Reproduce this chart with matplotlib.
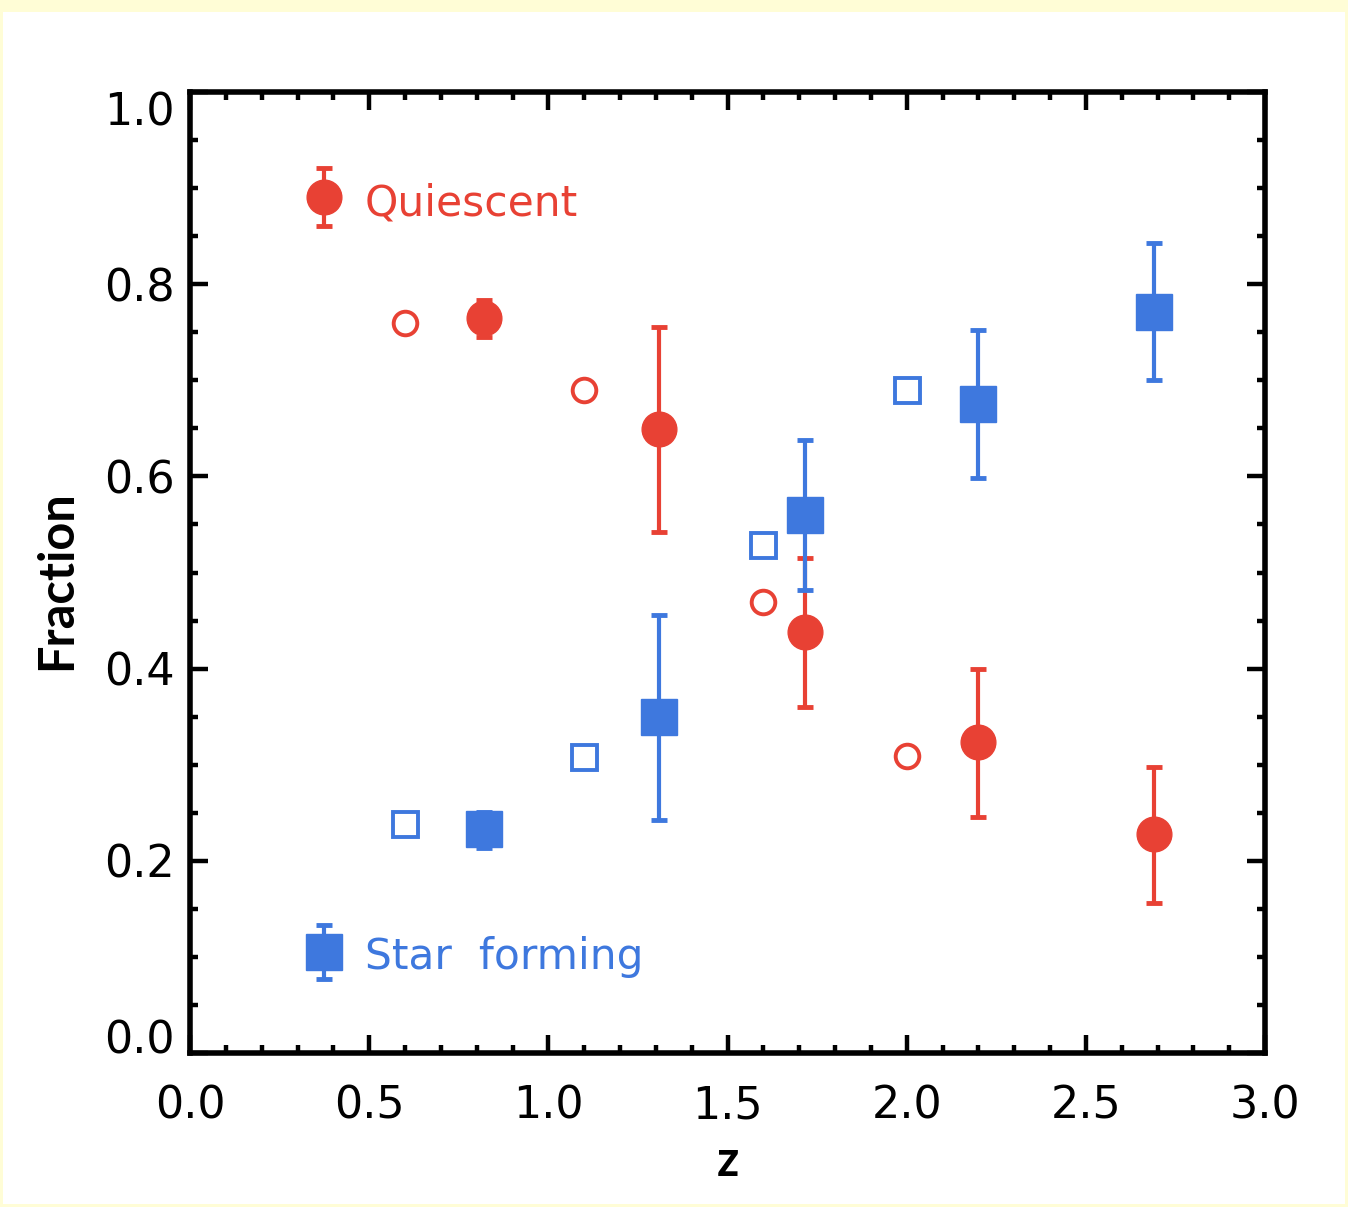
import matplotlib
matplotlib.use("Agg")
import matplotlib.pyplot as plt
from matplotlib.patches import Rectangle
from matplotlib.ticker import MultipleLocator

# ---- data ----
z_filled = [0.82, 1.31, 1.716, 2.20, 2.69]
q_frac = [0.765, 0.649, 0.438, 0.324, 0.228]
q_err_lo = [0.020, 0.107, 0.078, 0.078, 0.072]
q_err_hi = [0.019, 0.106, 0.077, 0.076, 0.070]

sf_frac = [0.233, 0.350, 0.560, 0.675, 0.771]
sf_err_lo = [0.020, 0.108, 0.078, 0.077, 0.071]
sf_err_hi = [0.018, 0.106, 0.078, 0.077, 0.072]

z_open = [0.60, 1.10, 1.60, 2.00]
q_open = [0.760, 0.690, 0.469, 0.309]
sf_open = [0.238, 0.308, 0.529, 0.690]

legend_labels = ["Quiescent", "Star  forming"]
legend_marker_x = [0.374, 0.374]
legend_marker_y = [0.891, 0.105]
legend_err = [0.030, 0.028]

xticks = [0.0, 0.5, 1.0, 1.5, 2.0, 2.5, 3.0]
yticks = [0.0, 0.2, 0.4, 0.6, 0.8, 1.0]

RED = "#E84134"
BLUE = "#3E78DE"

plt.rcParams['font.family'] = ['DejaVu Sans']

fig = plt.figure(figsize=(13.48, 12.07), dpi=100)
fig.patch.set_facecolor("#FFFDD6")
bg = Rectangle((3/1348, 1 - 1204/1207), 1342/1348, 1192/1207,
               transform=fig.transFigure, facecolor="white",
               edgecolor="none", zorder=-10)
fig.add_artist(bg)

ax = fig.add_axes([190/1348, 1 - 1053/1207, 1075/1348, 961/1207])
ax.set_zorder(5)
ax.set_facecolor("white")
ax.set_xlim(0, 3)
ax.set_ylim(0, 1)

ebkw = dict(elinewidth=3, capsize=6, capthick=3.5, linestyle="none")
ax.errorbar(z_filled, q_frac, yerr=[q_err_lo, q_err_hi], fmt="o", color=RED,
            markersize=25, zorder=3, **ebkw)
ax.plot(z_open, q_open, "o", markersize=17, markerfacecolor="none",
        markeredgecolor=RED, markeredgewidth=2.8, zorder=3)
ax.errorbar(z_filled, sf_frac, yerr=[sf_err_lo, sf_err_hi], fmt="s", color=BLUE,
            markersize=26, zorder=4, **ebkw)
ax.plot(z_open, sf_open, "s", markersize=18, markerfacecolor="none",
        markeredgecolor=BLUE, markeredgewidth=2.8, zorder=4)

# legend-like annotations
for lx, ly, le, lab, col, mk, ms, dy in zip(legend_marker_x, legend_marker_y, legend_err,
                                            legend_labels, [RED, BLUE], ["o", "s"],
                                            [25, 26], [-0.007, -0.005]):
    ax.errorbar([lx], [ly], yerr=[[le], [le]], fmt=mk, color=col, markersize=ms,
                zorder=5, **ebkw)
    ax.text(lx + 0.113, ly + dy, lab, color=col, fontsize=30.5, va="center", ha="left")

ax.set_xticks(xticks)
ax.set_yticks(yticks)
ax.set_xticklabels([f"{t:.1f}" for t in xticks])
ylabs = ax.set_yticklabels([f"{t:.1f}" for t in yticks])
ylabs[0].set_va("baseline")
ylabs[-1].set_va("top")
ax.xaxis.set_minor_locator(MultipleLocator(0.1))
ax.yaxis.set_minor_locator(MultipleLocator(0.05))
ax.tick_params(which="both", direction="in", top=True, right=True, width=3.2,
               labelsize=32, colors="black")
ax.tick_params(which="major", length=13)
ax.tick_params(which="minor", length=6)
ax.tick_params(axis="x", which="major", pad=23)
ax.tick_params(axis="y", which="major", pad=11)
for s in ax.spines.values():
    s.set_linewidth(4)

ax.set_xlabel("z", fontsize=35, fontweight="bold", family="Lato", labelpad=8)
ax.set_ylabel("Fraction", fontsize=35, fontweight="bold", family="Lato")
ax.yaxis.set_label_coords(-0.103, 0.492)

fig.savefig("out.png", dpi=100, facecolor=fig.get_facecolor())
